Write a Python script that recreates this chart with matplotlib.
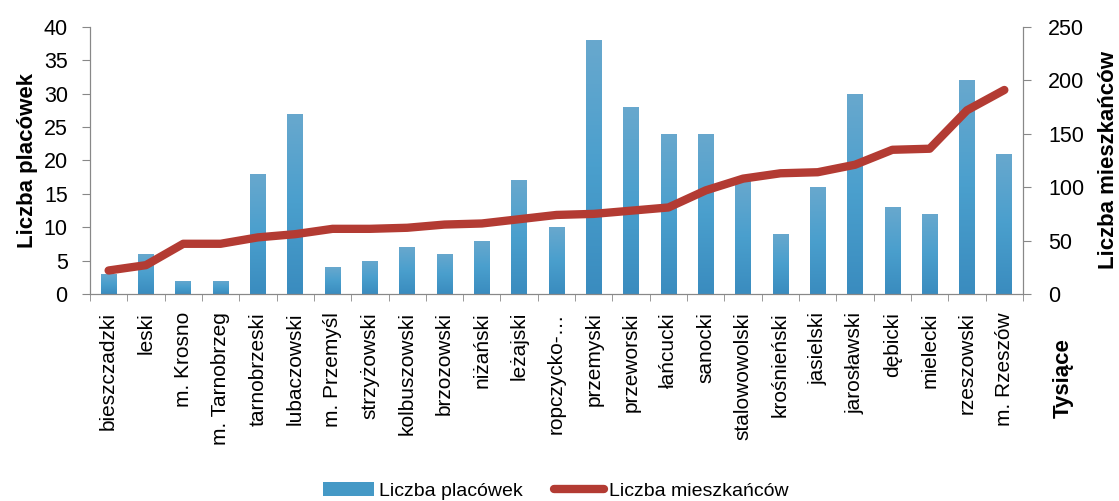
import numpy as np
import matplotlib.pyplot as plt
from matplotlib.colors import LinearSegmentedColormap

plt.rcParams['font.family'] = ['Liberation Sans', 'DejaVu Sans']

# dane
powiaty = ['bieszczadzki', 'leski', 'm. Krosno', 'm. Tarnobrzeg', 'tarnobrzeski',
           'lubaczowski', 'm. Przemyśl', 'strzyżowski', 'kolbuszowski', 'brzozowski',
           'niżański', 'leżajski', 'ropczycko-…', 'przemyski', 'przeworski',
           'łańcucki', 'sanocki', 'stalowowolski', 'krośnieński', 'jasielski',
           'jarosławski', 'dębicki', 'mielecki', 'rzeszowski', 'm. Rzeszów']
placowki = [3, 6, 2, 2, 18, 27, 4, 5, 7, 6, 8, 17, 10, 38, 28, 24, 24, 17, 9, 16,
            30, 13, 12, 32, 21]
mieszkancy = [22, 27, 47, 47, 53, 56, 61, 61, 62, 65, 66, 70, 74, 75, 78, 81, 97,
              108, 113, 114, 121, 135, 136, 172, 191]

n = len(powiaty)
x = np.arange(n)
szer = 0.42

fig = plt.figure(figsize=(11.19, 5.01), dpi=100)
ax = fig.add_axes([0.0804, 0.4132, 0.8338, 0.533])
ax2 = ax.twinx()

# słupki z gradientem
cmap = LinearSegmentedColormap.from_list('niebieski', ['#3A8CBF', '#4A9FCD', '#68A8CE'])
bars = ax.bar(x, placowki, width=szer, color='#4599C6', zorder=2)
grad = np.linspace(0, 1, 100).reshape(-1, 1)
for b in bars:
    bx, by = b.get_x(), b.get_height()
    im = ax.imshow(grad, extent=(bx, bx + szer, 0, by), origin='lower',
                   aspect='auto', cmap=cmap, zorder=2.5)
    im.set_clip_path(b)

ax2.plot(x, mieszkancy, color='#B33B33', lw=6, solid_capstyle='round', zorder=3)

ax.set_xlim(-0.5, n - 0.5)
ax.set_ylim(0, 40)
ax.set_yticks(range(0, 41, 5))
ax2.set_ylim(0, 250)
ax2.set_yticks(range(0, 251, 50))

ax.set_xticks(x)
ax.set_xticklabels(powiaty, rotation=90, fontsize=15)
ax.set_xticks(np.arange(-0.5, n, 1), minor=True)
ax.tick_params(axis='x', which='major', length=0, pad=13)
ax.tick_params(axis='x', which='minor', length=5, color='#888888')
ax.tick_params(axis='y', labelsize=15.5, length=6, color='#888888', pad=10)
ax2.tick_params(axis='y', labelsize=15.5, length=6, color='#888888', pad=12)

for a in (ax, ax2):
    a.spines['top'].set_visible(False)
    for s in ('left', 'right', 'bottom'):
        a.spines[s].set_color('#888888')

ax.set_ylabel('Liczba placówek', fontsize=16, fontweight='bold', labelpad=4)
ax2.set_ylabel('Liczba mieszkańców', fontsize=16, fontweight='bold', labelpad=10)
fig.text(0.950, 0.245, 'Tysiące', rotation=90, fontsize=16, fontweight='bold',
         ha='center', va='center')

line = plt.Line2D([], [], color='#B33B33', lw=6, solid_capstyle='round')
fig.legend([bars, line], ['Liczba placówek', 'Liczba mieszkańców'], loc='center',
           bbox_to_anchor=(0.497, 0.02), ncol=2, frameon=False, fontsize=14,
           handlelength=2.6, columnspacing=1.6, handletextpad=0.25)

plt.savefig('out.png')
